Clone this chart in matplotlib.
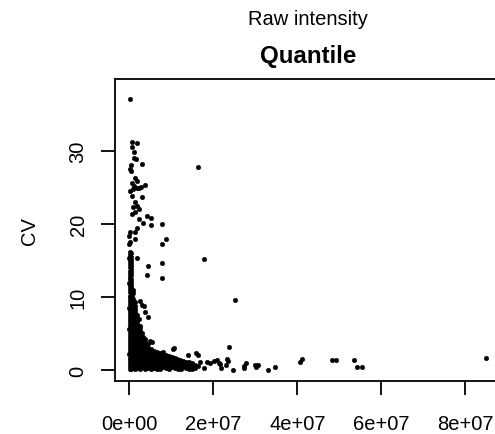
import matplotlib
matplotlib.use("Agg")
import matplotlib.pyplot as plt

# ---- data (intensity in units of 1e6, CV) ----
# dense body of points near zero intensity
body = [
 (0.08,16.2),(0.15,15.8),(0.05,15.3),(0.12,14.9),(0.07,14.5),(0.14,14.1),(0.06,13.6),(0.11,13.2),(0.09,12.8),(0.16,12.4),
 (0.05,11.9),(0.13,11.5),(0.08,11.1),(0.12,10.7),(0.06,10.2),(0.15,9.8),(0.07,9.4),(0.10,9.0),(0.05,8.5),(0.14,8.1),
 (0.08,7.7),(0.11,7.3),(0.06,6.8),(0.13,6.4),(0.09,6.0),(0.05,5.6),(0.12,5.1),(0.07,4.7),(0.15,4.3),(0.06,3.9),
 (0.10,3.4),(0.08,3.0),(0.13,2.6),(0.05,2.2),(0.11,1.7),(0.07,1.3),(0.14,0.9),(0.09,0.5),(0.06,0.1),
 (0.42,16.0),(0.38,15.5),(0.47,15.1),(0.40,14.7),(0.44,14.2),(0.36,13.8),(0.49,13.4),(0.41,13.0),(0.45,12.5),(0.39,12.1),
 (0.52,11.7),(0.43,11.3),(0.37,10.8),(0.48,10.4),(0.41,10.0),(0.46,9.6),(0.39,9.1),(0.50,8.7),(0.43,8.3),(0.47,7.9),
 (0.38,7.4),(0.51,7.0),(0.44,6.6),(0.40,6.2),(0.49,5.7),(0.42,5.3),(0.46,4.9),(0.37,4.5),(0.50,4.0),(0.43,3.6),
 (0.47,3.2),(0.39,2.8),(0.52,2.3),(0.41,1.9),(0.45,1.5),(0.38,1.1),(0.48,0.6),(0.43,0.2),
 (0.78,11.0),(0.83,10.6),(0.76,10.2),(0.85,9.7),(0.80,9.3),(0.74,8.9),(0.86,8.4),(0.79,8.0),(0.82,7.5),(0.77,7.0),
 (0.84,6.6),(0.80,6.1),(0.75,5.7),(0.87,5.2),(0.81,4.8),(0.78,4.3),(0.84,3.9),(0.76,3.4),(0.82,3.0),(0.79,2.5),
 (0.85,2.1),(0.77,1.6),(0.83,1.2),(0.80,0.7),(0.78,0.3),
 (1.28,9.3),(1.35,8.8),(1.25,8.4),(1.32,7.9),(1.27,7.4),(1.36,7.0),(1.30,6.5),(1.24,6.1),(1.33,5.6),(1.29,5.1),
 (1.37,4.7),(1.26,4.2),(1.31,3.8),(1.34,3.3),(1.27,2.9),(1.32,2.4),(1.25,2.0),(1.36,1.5),(1.30,1.1),(1.28,0.6),(1.33,0.2),
 (1.88,7.5),(1.94,7.0),(1.85,6.6),(1.92,6.1),(1.87,5.7),(1.96,5.2),(1.90,4.8),(1.84,4.3),(1.93,3.9),(1.89,3.4),
 (1.95,3.0),(1.86,2.5),(1.91,2.1),(1.88,1.6),(1.94,1.2),(1.87,0.7),(1.92,0.3),
 (2.48,6.0),(2.55,5.6),(2.45,5.1),(2.52,4.7),(2.47,4.2),(2.56,3.8),(2.50,3.3),(2.44,2.9),(2.53,2.4),(2.49,2.0),
 (2.55,1.5),(2.46,1.1),(2.51,0.6),(2.48,0.2),
 (3.08,5.0),(3.15,4.5),(3.05,4.1),(3.12,3.6),(3.07,3.2),(3.16,2.7),(3.10,2.3),(3.04,1.8),(3.13,1.4),(3.09,0.9),(3.14,0.4),
 (3.78,4.3),(3.85,3.8),(3.75,3.4),(3.82,2.9),(3.77,2.5),(3.86,2.0),(3.80,1.6),(3.74,1.1),(3.83,0.7),(3.79,0.2),
 (4.48,3.5),(4.55,3.0),(4.45,2.6),(4.52,2.1),(4.47,1.7),(4.56,1.2),(4.50,0.8),(4.44,0.3),
 (5.18,2.9),(5.25,2.45),(5.15,2.0),(5.22,1.55),(5.17,1.1),(5.26,0.65),(5.20,0.2),
 (5.88,2.6),(5.95,2.1),(5.85,1.65),(5.92,1.2),(5.87,0.75),(5.96,0.3),
 (6.58,2.45),(6.65,2.0),(6.55,1.55),(6.62,1.1),(6.57,0.65),(6.66,0.2),
 (7.28,2.3),(7.35,1.85),(7.25,1.4),(7.32,0.95),(7.27,0.5),(7.36,0.15),
 (7.98,2.2),(8.05,1.75),(7.95,1.3),(8.02,0.85),(7.97,0.4),
 (8.68,2.1),(8.75,1.65),(8.65,1.2),(8.72,0.75),(8.67,0.3),
 (9.38,1.95),(9.45,1.5),(9.35,1.05),(9.42,0.6),(9.37,0.2),
 (10.08,1.8),(10.15,1.35),(10.05,0.9),(10.12,0.45),
 (10.78,1.65),(10.85,1.2),(10.75,0.75),(10.82,0.3),
 (11.48,1.55),(11.55,1.1),(11.45,0.65),(11.52,0.2),
 (12.18,1.4),(12.25,0.95),(12.15,0.5),(12.22,0.15),
 (12.88,1.25),(12.95,0.8),(12.85,0.35),
 (13.58,1.15),(13.65,0.7),(13.55,0.25),
 (14.28,1.05),(14.35,0.6),(14.25,0.2),
 (14.98,0.9),(15.05,0.5),(14.95,0.15),
 (15.68,0.75),(15.75,0.3),
 (16.38,0.5),
]
body_x = [p[0] for p in body]
body_y = [p[1] for p in body]

# individual scattered points
scatter_x = [0.2, 0.7, 1.9, 0.7, 1.1, 1.5, 1.1, 3.1, 0.3, 0.2, 0.3, 1.4, 1.8, 0.6, 1.1,
             1.0, 1.8, 2.3, 2.9, 3.7, 0.55, 0.2, 2.95, 1.4, 1.8, 1.0, 2.2, 0.6, 1.4, 4.1,
             5.1, 3.3, 5.1, 2.3, 1.8, 1.4, 0.2, 0.0, 0.17, 0.0, 1.4,
             7.7, 8.7, 7.9, 7.9, 7.9, 4.45, 4.1, 1.9, 16.4, 17.7, 25.1,
             2.55, 3.0, 3.7, 4.5, 3.6, 2.4, 1.6, 4.9, 5.5, 10.5, 10.7, 8.1, 6.1, 4.4,
             16.0, 16.3, 14.0, 23.8,
             16.8, 18.6, 19.2, 20.2, 20.8, 21.4, 21.8, 23.2, 23.0, 23.6, 24.8, 17.9, 21.5,
             27.8, 27.3, 27.4, 30.7, 29.9, 30.2, 33.0, 34.6, 40.6, 41.2, 48.3, 49.2,
             53.4, 54.1, 55.3, 84.9]
scatter_y = [37.1, 31.2, 31.1, 30.6, 29.8, 28.9, 29.0, 28.2, 28.1, 27.5, 27.2, 26.3, 25.9, 25.6, 25.2,
             24.8, 24.9, 24.9, 25.1, 25.4, 23.9, 24.5, 23.7, 23.0, 22.5, 22.3, 22.1, 21.4, 21.6, 21.1,
             20.8, 20.2, 19.8, 20.7, 19.4, 18.9, 18.9, 18.4, 17.5, 17.3, 17.9,
             20.0, 18.0, 17.2, 14.7, 12.6, 14.2, 13.0, 15.4, 27.8, 15.2, 9.6,
             9.4, 8.9, 7.9, 7.3, 8.8, 7.0, 5.8, 4.0, 3.9, 2.9, 3.0, 2.4, 2.3, 2.0,
             2.3, 2.1, 2.0, 3.1,
             1.05, 1.15, 0.9, 1.2, 1.4, 1.0, 0.3, 1.5, 0.7, 1.2, 0.0, 0.3, 0.8,
             1.0, 0.5, 0.3, 0.7, 0.7, 0.4, 0.05, 0.4, 1.05, 1.45, 1.4, 1.3,
             1.4, 0.4, 0.4, 1.6]

x_ticks = [0, 2e7, 4e7, 6e7, 8e7]
x_tick_labels = ["0e+00", "2e+07", "4e+07", "6e+07", "8e+07"]
y_ticks = [0, 10, 20, 30]
y_tick_labels = ["0", "10", "20", "30"]
title_top = "Raw intensity"
title_main = "Quantile"
y_label = "CV"

# ---- figure ----
plt.rcParams['font.family'] = ['Liberation Sans', 'DejaVu Sans']
W, H = 495, 435
fig = plt.figure(figsize=(W / 100, H / 100), dpi=100)
ax = fig.add_axes([115 / W, (H - 382) / H, (501 - 115) / W, (382 - 80) / H])

E6 = 1e6
ax.plot([v * E6 for v in body_x], body_y, 'o', ms=3.3, color='black', mec='black', mew=0.3)
ax.plot([v * E6 for v in scatter_x], scatter_y, 'o', ms=3.3, color='black', mec='black', mew=0.3)

ax.set_xlim(-3.40e6, 88.5e6)
ax.set_ylim(-1.51, 39.86)

ax.set_xticks(x_ticks)
ax.set_xticklabels(x_tick_labels)
ax.set_yticks(y_ticks)
ax.set_yticklabels(y_tick_labels, rotation=90, va='center')

for s in ax.spines.values():
    s.set_linewidth(1.3)
ax.tick_params(axis='both', direction='out', length=10, width=1.3, labelsize=14.5, color='black')
ax.tick_params(axis='x', pad=13.5)
ax.tick_params(axis='y', pad=9.7)

fig.text(29.5 / W, 1 - 231 / H, y_label, rotation=90, ha='center', va='center', fontsize=14.5)
fig.text(308 / W, 1 - 25 / H, title_top, ha='center', va='baseline', fontsize=14.5)
fig.text(308 / W, 1 - 63 / H, title_main, ha='center', va='baseline', fontsize=17.4, fontweight='bold')

fig.savefig("out.png", dpi=100)
